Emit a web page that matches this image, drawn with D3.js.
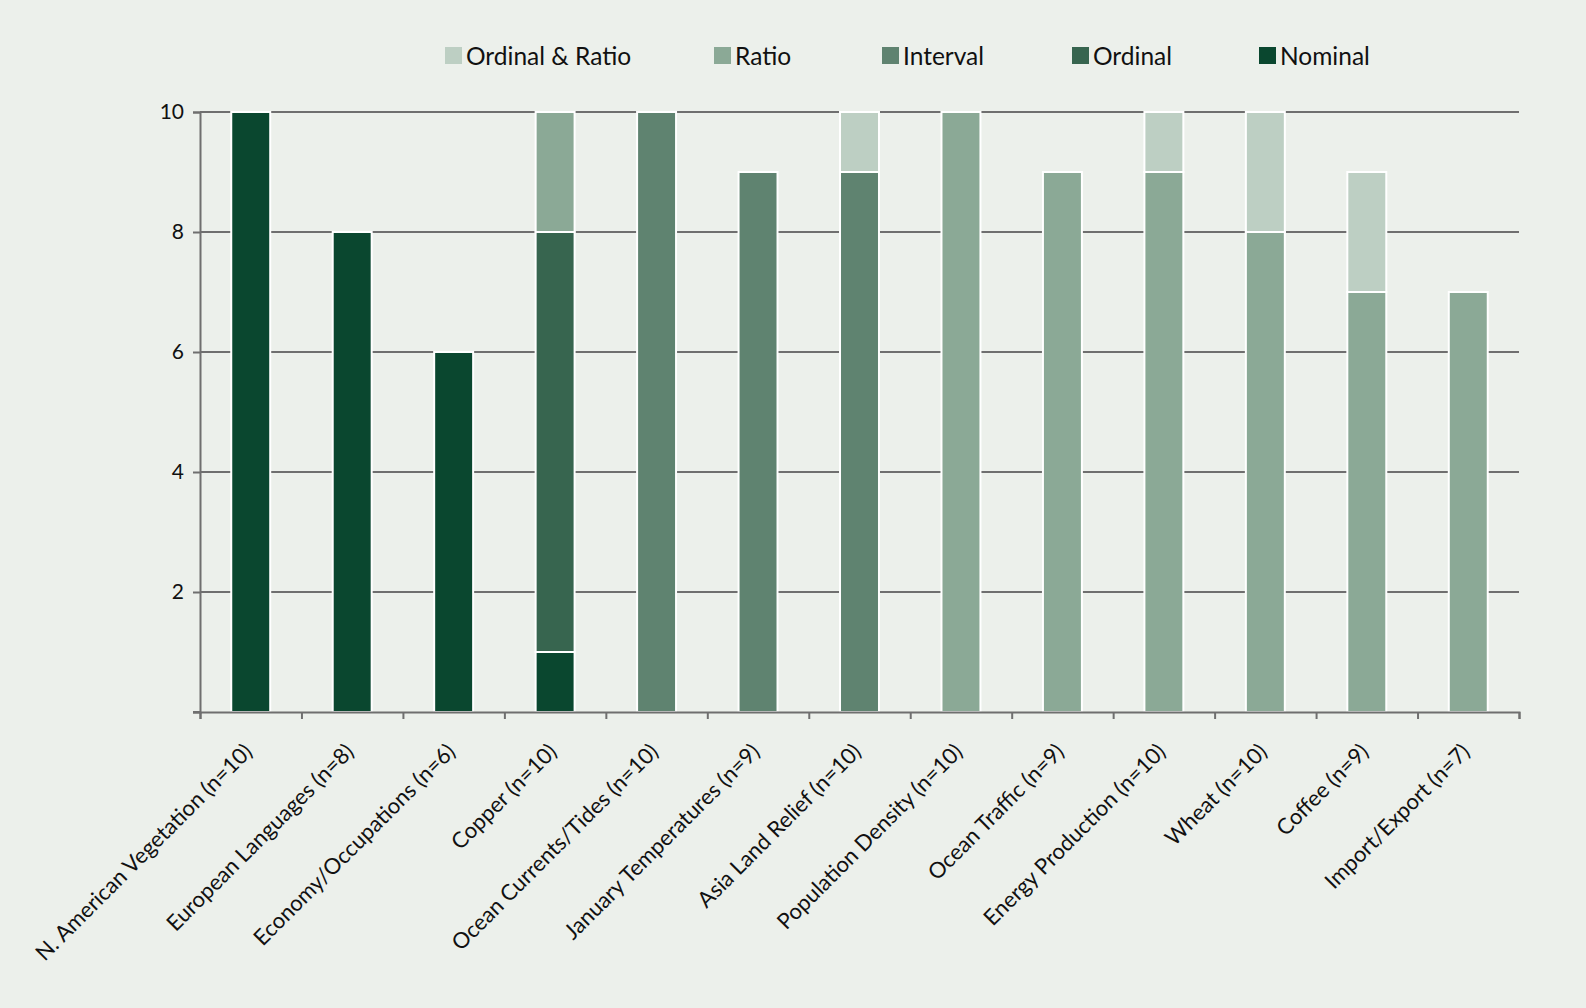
<!DOCTYPE html>
<html><head><meta charset="utf-8">
<script src="https://cdn.jsdelivr.net/npm/d3@7/dist/d3.min.js"></script>
<style>
html,body{margin:0;padding:0;background:#ecf0eb;}
svg{display:block;font-family:Lato, "Open Sans", sans-serif;}
</style></head>
<body>
<svg id="chart" width="1586" height="1008"></svg>
<script>
const categories = ["N. American Vegetation (n=10)","European Languages (n=8)","Economy/Occupations (n=6)","Copper (n=10)","Ocean Currents/Tides (n=10)","January Temperatures (n=9)","Asia Land Relief (n=10)","Population Density (n=10)","Ocean Traffic (n=9)","Energy Production (n=10)","Wheat (n=10)","Coffee (n=9)","Import/Export (n=7)"];
const seriesNames = ["Nominal","Ordinal","Interval","Ratio","Ordinal & Ratio"];
const nominal      = [10,8,6,1,0,0,0,0,0,0,0,0,0];
const ordinal      = [0,0,0,7,0,0,0,0,0,0,0,0,0];
const interval     = [0,0,0,0,10,9,9,0,0,0,0,0,0];
const ratio        = [0,0,0,2,0,0,0,10,9,9,8,7,7];
const ordinalRatio = [0,0,0,0,0,0,1,0,0,1,2,2,0];
const yTicks = [0,2,4,6,8,10];
const legendOrder = ["Ordinal & Ratio","Ratio","Interval","Ordinal","Nominal"];

const colors = {"Nominal":"#0a472f","Ordinal":"#37654f","Interval":"#5f8370","Ratio":"#8ba996","Ordinal & Ratio":"#bdcfc3"};
const seriesValues = {"Nominal":nominal,"Ordinal":ordinal,"Interval":interval,"Ratio":ratio,"Ordinal & Ratio":ordinalRatio};

const rows = categories.map((c,i)=>{const r={cat:c}; seriesNames.forEach(s=>r[s]=seriesValues[s][i]); return r;});
const stacked = d3.stack().keys(seriesNames)(rows);

const svg = d3.select("#chart");
const L=200, R=1519, T=112, B=712;
const x = d3.scaleBand().domain(categories).range([L,R]).paddingInner(0.616).paddingOuter(0.308);
const xi = d3.scaleLinear().domain([0,categories.length]).range([L,R]);
const y = d3.scaleLinear().domain([0,10]).range([B,T]);
const gridColor = "#6f6f6f";

// gridlines + y axis
const yAxis = svg.append("g").attr("transform",`translate(${L},0)`)
  .call(d3.axisLeft(y).tickValues(yTicks).tickSize(7).tickPadding(9).tickFormat(d=>d===0?"":d));
yAxis.select(".domain").attr("stroke",gridColor).attr("stroke-width",2);
yAxis.selectAll(".tick line").attr("stroke",gridColor).attr("stroke-width",2);
yAxis.selectAll(".tick text").attr("font-size",21).attr("fill","#111").attr("font-family","Lato, sans-serif");
svg.append("g").selectAll("line").data(yTicks.filter(d=>d>0)).join("line")
  .attr("x1",L).attr("x2",R).attr("y1",d=>y(d)).attr("y2",d=>y(d))
  .attr("stroke",gridColor).attr("stroke-width",2);

// bars
svg.append("g").selectAll("g").data(stacked).join("g")
  .attr("fill",d=>colors[d.key])
  .selectAll("rect").data(d=>d.filter(p=>p[1]>p[0])).join("rect")
  .attr("x",d=>x(d.data.cat)).attr("width",x.bandwidth())
  .attr("y",d=>y(d[1])).attr("height",d=>y(d[0])-y(d[1]))
  .attr("stroke","#ffffff").attr("stroke-width",2);

// x axis
const xAxis = svg.append("g").attr("transform",`translate(0,${B})`)
  .call(d3.axisBottom(xi).tickValues(d3.range(categories.length+1)).tickSize(7).tickFormat(""));
xAxis.select(".domain").attr("stroke",gridColor).attr("stroke-width",2);
xAxis.selectAll(".tick line").attr("stroke",gridColor).attr("stroke-width",2);
svg.append("line").attr("x1",L-7).attr("x2",L).attr("y1",B).attr("y2",B).attr("stroke",gridColor).attr("stroke-width",2);

// category labels
svg.append("g").selectAll("text").data(categories).join("text")
  .attr("transform",d=>`translate(${x(d)+x.bandwidth()/2+3},${B+41}) rotate(-45)`)
  .attr("text-anchor","end").attr("font-size",22).attr("fill","#111").text(d=>d);

// legend
const legendX = [445,714,882,1072,1259];
const lg = svg.append("g").selectAll("g").data(legendOrder).join("g")
  .attr("transform",(d,i)=>`translate(${legendX[i]},47)`);
lg.append("rect").attr("width",17).attr("height",17).attr("fill",d=>colors[d]);
lg.append("text").attr("x",21).attr("y",9).attr("dy","0.35em").attr("font-size",24.5).attr("fill","#111").text(d=>d);
</script>
</body></html>
